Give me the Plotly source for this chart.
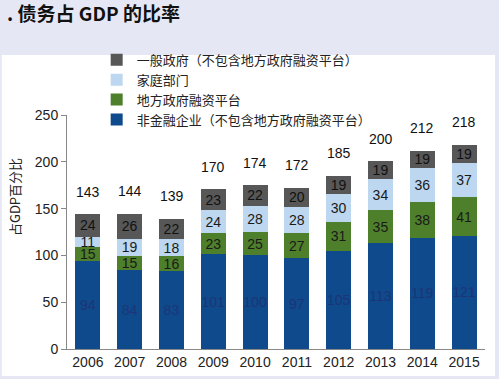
import plotly.graph_objects as go

years = ["2006", "2007", "2008", "2009", "2010", "2011", "2012", "2013", "2014", "2015"]
nonfin_corp = [94, 84, 83, 101, 100, 97, 105, 113, 119, 121]
lgfv = [15, 15, 16, 23, 25, 27, 31, 35, 38, 41]
household = [11, 19, 18, 24, 28, 28, 30, 34, 36, 37]
general_gov = [24, 26, 22, 23, 22, 20, 19, 19, 19, 19]
totals = [143, 144, 139, 170, 174, 172, 185, 200, 212, 218]

names = ["非金融企业（不包含地方政府融资平台）", "地方政府融资平台", "家庭部门", "一般政府（不包含地方政府融资平台）"]
series = [nonfin_corp, lgfv, household, general_gov]
colors = ["#0f4a8c", "#4e7f2b", "#bcd7ef", "#575757"]
label_colors = ["#1c3577", "#1a1a1a", "#1a1a1a", "#111111"]

FONT = "Liberation Sans, Arial, sans-serif"
CJK = "Noto Sans CJK SC, sans-serif"

fig = go.Figure()
for name, vals, col, lc in zip(names, series, colors, label_colors):
    fig.add_trace(go.Bar(
        x=years, y=vals, name=name,
        marker=dict(color=col, line=dict(width=0)),
        text=[str(v) for v in vals], textposition="inside",
        insidetextanchor="middle", textangle=0,
        textfont=dict(family=FONT, size=14, color=lc),
        constraintext="none",
    ))

for i, t in enumerate(totals):
    fig.add_annotation(x=i, y=t, text=str(t), showarrow=False,
                       yanchor="bottom", yshift=13,
                       font=dict(family=FONT, size=14, color="#111111"))

# white panel
fig.add_shape(type="rect", xref="paper", yref="paper",
              x0=-0.156, x1=1.024, y0=-0.115, y1=1.256,
              fillcolor="white", line=dict(width=0), layer="below")

fig.add_annotation(xref="paper", yref="paper", x=-0.124, y=0.65,
                   xanchor="center", yanchor="middle",
                   text="占GDP百分比", textangle=-90, showarrow=False,
                   font=dict(family=CJK, size=13, color="#222222"))

fig.update_layout(
    width=499, height=379,
    margin=dict(l=67, r=14, t=115, b=30, autoexpand=False),
    paper_bgcolor="#e5e8f4", plot_bgcolor="white",
    barmode="stack", bargap=0.4,
    uniformtext=dict(minsize=14, mode="show"),
    title=dict(text="<b>. 债务占 GDP 的比率</b>", x=0.014, xanchor="left",
               xref="container", yref="container", y=0.962, yanchor="middle",
               font=dict(family=CJK, size=19, color="#111111")),
    legend=dict(x=0.071, y=1.30, xanchor="left", yanchor="top",
                traceorder="reversed", bgcolor="rgba(0,0,0,0)",
                font=dict(family=CJK, size=13, color="#222222"),
                itemwidth=30, tracegroupgap=0),
    showlegend=True,
    xaxis=dict(type="category", showgrid=False, showline=True, linecolor="#888888", linewidth=1,
               ticks="", tickfont=dict(family=FONT, size=14, color="#222222")),
    yaxis=dict(range=[0, 250], tickvals=[0, 50, 100, 150, 200, 250],
               showgrid=False, showline=True, linecolor="#888888", linewidth=1,
               ticks="outside", ticklen=5, tickcolor="#888888", zeroline=False,
               tickfont=dict(family=FONT, size=14, color="#222222")),
)

fig.write_html("out.html", config={"displayModeBar": False},
               post_script="document.body.style.margin='0';document.body.style.overflow='hidden';")
